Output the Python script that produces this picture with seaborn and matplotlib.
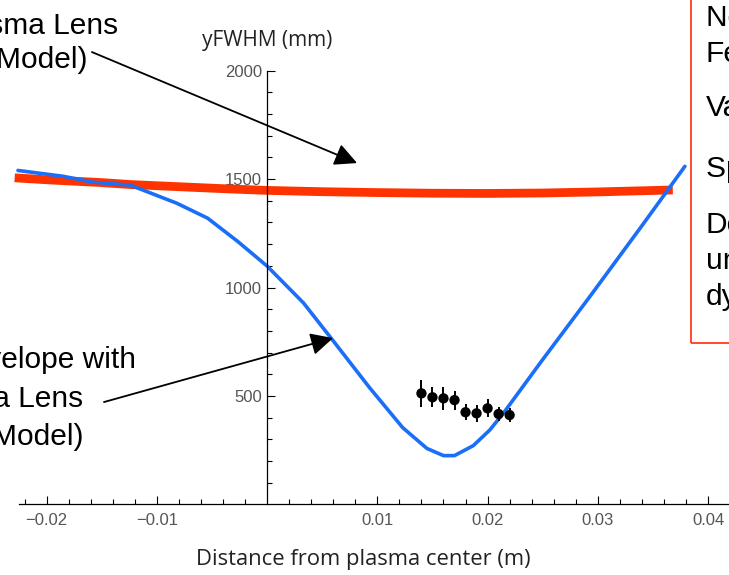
import matplotlib
matplotlib.use("Agg")
import matplotlib.pyplot as plt
from matplotlib.patches import Rectangle
import seaborn as sns

# Plasma lens model (red) and beam envelope with the lens (blue), in mm
red_x = [-0.0229, -0.020, -0.015, -0.0124, -0.008, -0.004, 0.0, 0.005, 0.010,
         0.015, 0.020, 0.025, 0.030, 0.0368]
red_y = [1506, 1497, 1484, 1475, 1465, 1456, 1448, 1442, 1438, 1435, 1434,
         1436, 1441, 1450]

blue_x = [-0.0226, -0.0185, -0.0158, -0.0124, -0.0082, -0.0054, -0.0027, 0.0,
          0.0033, 0.0060, 0.0093, 0.0123, 0.0145, 0.0160, 0.0170, 0.0187,
          0.0202, 0.0215, 0.0250, 0.0293, 0.0340, 0.0379]
blue_y = [1540, 1513, 1486, 1472, 1389, 1320, 1214, 1099, 929, 754, 538, 354,
          258, 225, 225, 271, 343, 425, 668, 960, 1285, 1559]

# Measured beam size with error bars
meas_x = [0.014, 0.015, 0.016, 0.017, 0.018, 0.019, 0.020, 0.021, 0.022]
meas_y = [512, 494, 489, 481, 425, 420, 443, 417, 412]
meas_err = [61, 46, 54, 44, 37, 38, 42, 34, 34]

xtick_vals = [-0.02, -0.01, 0.01, 0.02, 0.03, 0.04]
xtick_labels = ["\u22120.02", "\u22120.01", "0.01", "0.02", "0.03", "0.04"]
xminor_vals = [round(-0.022 + 0.002 * i, 3) for i in range(32)]
ytick_vals = [500, 1000, 1500, 2000]
ytick_labels = ["500", "1000", "1500", "2000"]
yminor_vals = [100 * i for i in range(1, 20)]

sns.set_style("white")
plt.rcParams["font.family"] = ["Liberation Sans", "DejaVu Sans"]

W, H = 729, 575
fig = plt.figure(figsize=(W / 100, H / 100), dpi=100)
ax = fig.add_axes([0, 0, 1, 1])
ax.set_xlim(-0.02423, 0.0419)
ax.set_ylim(-325.5, 2326)

sns.lineplot(x=red_x, y=red_y, ax=ax, color="#ff3300", linewidth=6.3,
             sort=False, estimator=None, solid_capstyle="butt")
sns.lineplot(x=blue_x, y=blue_y, ax=ax, color="#1a6ef7", linewidth=2.6,
             sort=False, estimator=None)
ax.errorbar(meas_x, meas_y, yerr=meas_err, fmt="none", ecolor="black",
            elinewidth=1.4, capsize=0, zorder=4)
sns.scatterplot(x=meas_x, y=meas_y, ax=ax, color="black", s=55,
                edgecolor="none", zorder=5)

# Axes drawn through the origin
for side in ("top", "right"):
    ax.spines[side].set_visible(False)
ax.spines["left"].set_position(("data", 0))
ax.spines["bottom"].set_position(("data", 0))
ax.spines["left"].set_bounds(0, 2000)
ax.spines["bottom"].set_bounds(-0.0225, 0.0419)
for side in ("left", "bottom"):
    ax.spines[side].set_color("black")
    ax.spines[side].set_linewidth(0.9)

ax.set_xticks(xtick_vals)
ax.set_xticklabels(xtick_labels)
ax.set_xticks([v for v in xminor_vals
               if all(abs(v - t) > 1e-6 for t in xtick_vals + [0.0])], minor=True)
ax.set_yticks(ytick_vals)
ax.set_yticklabels(ytick_labels)
ax.set_yticks([v for v in yminor_vals if v not in ytick_vals], minor=True)
ax.tick_params(which="both", direction="in", color="black", width=0.8,
               bottom=True, left=True, top=False, right=False,
               labelsize=12, labelcolor="#555555")
ax.tick_params(which="major", length=5.5)
ax.tick_params(which="minor", length=3.5)
ax.tick_params(axis="x", which="major", pad=6)
ax.tick_params(axis="y", which="major", pad=3.5)
ax.set_xlabel("")
ax.set_ylabel("")


def put(px, py, s, **kw):
    ax.text(px / W, 1 - py / H, s, transform=ax.transAxes, **kw)


label_font = ["Open Sans", "DejaVu Sans"]
put(267, 46, "yFWHM (mm)", ha="center", va="baseline", fontsize=15,
    family=label_font, color="#222222")
put(363, 565, "Distance from plasma center (m)", ha="center", va="baseline",
    fontsize=15.8, family=label_font, color="#222222")

# Callout labels
big = dict(fontsize=21.5, va="baseline", color="black")
put(118, 34, "Plasma Lens", ha="right", **big)
put(88, 68, "(Model)", ha="right", **big)
put(136, 368, "Beam Envelope with", ha="right", **big)
put(83, 407, "Plasma Lens", ha="right", **big)
put(84, 445, "(Model)", ha="right", **big)

arrow = dict(arrowstyle="-|>,head_length=0.4,head_width=0.2",
             mutation_scale=34, color="black", linewidth=1.3,
             shrinkA=0, shrinkB=0)
ax.annotate("", xy=(0.00816, 1574), xytext=(-0.01589, 2086),
            arrowprops=arrow)
ax.annotate("", xy=(0.00598, 767), xytext=(-0.0148, 472),
            arrowprops=arrow)

# Notes box on the right
ax.add_patch(Rectangle((691 / W, 1 - 343 / H), 0.2, 0.8,
                       transform=ax.transAxes, fill=False,
                       edgecolor="#ff3c1e", linewidth=1.3))
notes = [(26, "Neutral beam"), (62, "Fe"), (116, "Vacuum"),
         (177, "Space charge"), (233, "Density"), (269, "uniform"),
         (305, "dynamics")]
for py, s in notes:
    put(706, py, s, ha="left", **big)

fig.savefig("out.png", dpi=100)
